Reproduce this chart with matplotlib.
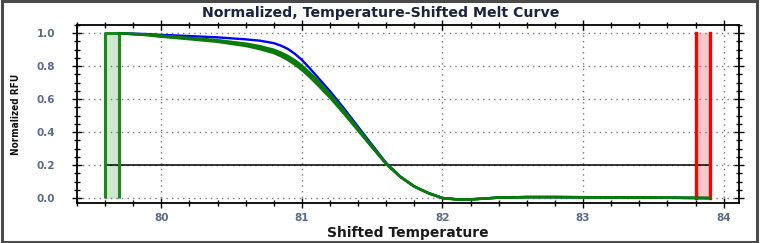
import matplotlib
matplotlib.use("Agg")
import matplotlib.pyplot as plt
from matplotlib.patches import Rectangle
from matplotlib.ticker import MultipleLocator

# ---- data ----
temps = [79.7, 79.9, 80.0, 80.2, 80.4, 80.6, 80.7, 80.8, 80.85, 80.9, 80.95, 81.0,
         81.05, 81.1, 81.2, 81.3, 81.4, 81.5, 81.6, 81.7, 81.8, 81.9, 82.0, 82.1,
         82.2, 82.3, 82.4, 82.6, 82.8, 83.0, 83.2, 83.4, 83.6, 83.9]
blue = [1.0, 0.995, 0.99, 0.983, 0.975, 0.963, 0.955, 0.94, 0.925, 0.905, 0.875,
        0.838, 0.793, 0.745, 0.648, 0.543, 0.432, 0.322, 0.212, 0.13, 0.07, 0.03,
        0.0, -0.007, -0.008, -0.003, 0.003, 0.006, 0.006, 0.005, 0.004, 0.003,
        0.002, 0.0]
green_a = [1.0, 0.992, 0.985, 0.972, 0.958, 0.937, 0.922, 0.9, 0.883, 0.862, 0.836,
           0.803, 0.765, 0.724, 0.632, 0.53, 0.422, 0.314, 0.21, 0.13, 0.07, 0.03,
           0.0, -0.008, -0.008, -0.003, 0.003, 0.006, 0.006, 0.005, 0.004, 0.003,
           0.002, 0.0]
green_b = [1.0, 0.99, 0.982, 0.968, 0.953, 0.93, 0.913, 0.89, 0.872, 0.85, 0.823,
           0.79, 0.752, 0.71, 0.62, 0.52, 0.415, 0.31, 0.208, 0.129, 0.07, 0.03,
           0.0, -0.008, -0.008, -0.003, 0.003, 0.006, 0.006, 0.005, 0.004, 0.003,
           0.002, 0.0]
green_c = [1.0, 0.988, 0.979, 0.964, 0.948, 0.923, 0.904, 0.88, 0.861, 0.838, 0.81,
           0.777, 0.739, 0.697, 0.609, 0.511, 0.409, 0.306, 0.206, 0.128, 0.07, 0.03,
           0.0, -0.008, -0.008, -0.003, 0.003, 0.006, 0.006, 0.005, 0.004, 0.003,
           0.002, 0.0]
begin_bar = (79.6, 79.7)
end_bar = (83.8, 83.9)
threshold = 0.2
xticks = [80, 81, 82, 83, 84]
yticks = [0.0, 0.2, 0.4, 0.6, 0.8, 1.0]

fig = plt.figure(figsize=(7.61, 2.43), dpi=100)
ax = fig.add_axes([0.1012, 0.1646, 0.8700, 0.7325])

# start / end bars
ax.fill_between(begin_bar, 0, 1.0, color="#cfe6cf", zorder=1)
ax.plot([begin_bar[0], begin_bar[0], begin_bar[1], begin_bar[1]], [0, 1.0, 1.0, 0],
        color="#1a8a1a", lw=2.2, zorder=3, solid_capstyle="butt")
ax.fill_between(end_bar, 0, 1.0, color="#ffc8c8", zorder=1)
ax.plot([end_bar[0], end_bar[0]], [0, 1.0], color="#ff0000", lw=2.4, zorder=3)
ax.plot([end_bar[1], end_bar[1]], [0, 1.0], color="#ff0000", lw=2.4, zorder=3)

# threshold
ax.plot([begin_bar[0], end_bar[1]], [threshold, threshold], color="black", lw=1.1, zorder=2)

# curves
ax.plot(temps, blue, color="#0000ff", lw=1.7, zorder=4)
for g in (green_a, green_b, green_c):
    ax.plot(temps, g, color="#0a7a0a", lw=1.8, zorder=5)

ax.set_xlim(79.4, 84.11)
ax.set_ylim(-0.03, 1.05)
ax.set_xticks(xticks)
ax.set_yticks(yticks)
ax.xaxis.set_minor_locator(MultipleLocator(0.2))
ax.yaxis.set_minor_locator(MultipleLocator(0.05))
ax.set_xticklabels([str(t) for t in xticks])
ax.set_yticklabels([f"{t:.1f}" for t in yticks])
ax.tick_params(which="both", direction="inout", top=True, right=True,
               color="black", width=1.0)
ax.tick_params(which="major", length=7)
ax.tick_params(which="minor", length=5)
ax.tick_params(axis="both", labelsize=7.5, labelcolor="#5a6a8a")
ax.tick_params(axis="x", pad=4)
ax.tick_params(axis="y", pad=12)
for lab in ax.get_xticklabels() + ax.get_yticklabels():
    lab.set_fontweight("bold")
ax.grid(True, which="major", color="#777777", linestyle=(0, (1, 3)), lw=1.0)
for s in ax.spines.values():
    s.set_linewidth(1.3)

fig.text(0.5007, 0.945, "Normalized, Temperature-Shifted Melt Curve", fontsize=10.2,
         fontweight="bold", color="#1a2440", ha="center", va="center")
ax.set_xlabel("Shifted Temperature", fontsize=10, fontweight="bold",
              color="#1a1a1a", labelpad=2)
ax.set_ylabel("Normalized RFU", fontsize=7.2, fontweight="bold", color="#111111",
              fontstretch="condensed")
ax.yaxis.set_label_coords(-0.085, 0.5)

fig.patches.append(Rectangle((0.002, 0.004), 0.993, 0.992, transform=fig.transFigure,
                             fill=False, edgecolor="#4a4a4a", lw=2.2))

fig.savefig("out.png", dpi=100)
